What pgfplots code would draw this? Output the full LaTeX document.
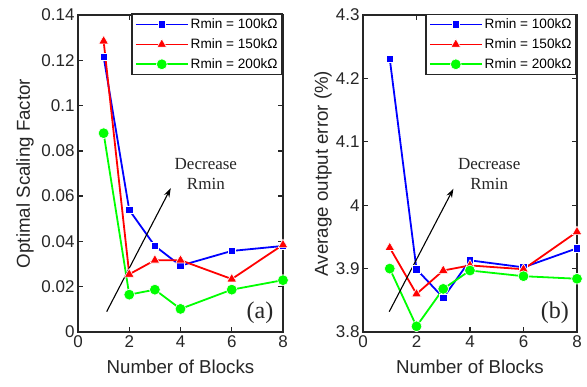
\documentclass[border=0pt]{standalone}
\usepackage{pgfplots}
\pgfplotsset{compat=1.18}
\usepackage{fontspec}
\setmainfont{Liberation Sans}
\newfontfamily\timesfont{Liberation Serif}
\usetikzlibrary{arrows.meta}
\definecolor{axgray}{RGB}{38,38,38}
\pgfplotsset{
  myaxis/.style={
    scale only axis, height=317pt,
    xmin=0, xmax=8, xtick={0,2,4,6,8},
    clip=false,
    tick align=inside,
    major tick length=5pt,
    axis line style={line width=2pt, axgray},
    tick style={line width=1.3pt, axgray},
    tick label style={font=\fontsize{17}{20}\selectfont, text=axgray},
    label style={font=\fontsize{18.7}{22}\selectfont, text=axgray},
    /pgf/number format/assume math mode=true,
    yticklabel style={/pgf/number format/fixed, /pgf/number format/precision=2},
    xlabel style={at={(axis description cs:0.5,0)}, anchor=center, yshift=-35pt},
    legend cell align=left,
    legend style={at={(1,1)}, anchor=north east, yshift=1.5pt,
      font=\fontsize{13.6}{16}\selectfont, draw=axgray, line width=1.8pt,
      inner sep=2.5pt, row sep=4.5pt},
    legend image code/.code={
      \draw[mark repeat=2, mark phase=2, line width=1.8pt] plot coordinates {(0pt,0pt) (26pt,0pt) (52pt,0pt)};
    },
  },
  sb/.style={blue, line width=1.8pt, mark=square*, mark size=3.8pt, mark options={fill=blue, draw=white, line width=0.6pt}},
  sr/.style={red, line width=1.8pt, mark=triangle*, mark size=5.6pt, mark options={fill=red, draw=white, line width=0.6pt}},
  sg/.style={green, line width=1.8pt, mark=*, mark size=5.4pt, mark options={fill=green, draw=white, line width=0.6pt}},
}
\begin{document}
\begin{tikzpicture}
\useasboundingbox (0pt,0pt) rectangle (587pt,386pt);
\begin{axis}[myaxis, at={(78pt,54pt)}, anchor=south west, width=205pt,
  ymin=0, ymax=0.14, ytick={0,0.02,0.04,0.06,0.08,0.1,0.12,0.14},
  xlabel={Number of Blocks}, ylabel={Optimal Scaling Factor},
  ylabel style={at={(axis description cs:0,0.5)}, anchor=center, yshift=53pt}]
\addplot[sb] coordinates {(1,0.1216)(2,0.0539)(3,0.0380)(4,0.0293)(6,0.0358)(8,0.0380)};
\addlegendentry{Rmin = 100kΩ}
\addplot[sr] coordinates {(1,0.1285)(2,0.0255)(3,0.0317)(4,0.0317)(6,0.0234)(8,0.0385)};
\addlegendentry{Rmin = 150kΩ}
\addplot[sg] coordinates {(1,0.0878)(2,0.0165)(3,0.0187)(4,0.0102)(6,0.0187)(8,0.0229)};
\addlegendentry{Rmin = 200kΩ}
\draw[-{Stealth[length=9pt,width=6pt]}, line width=1.1pt, black] (axis cs:1.12,0.009) -- (axis cs:3.62,0.0635);
\node[font=\timesfont\fontsize{17}{20}\selectfont, align=center, text=axgray] at (axis cs:4.99,0.070) {Decrease\\Rmin};
\node[font=\timesfont\fontsize{24}{26}\selectfont, text=axgray] at (axis cs:7.1,0.0084) {(a)};
\end{axis}
\begin{axis}[myaxis, at={(363pt,54pt)}, anchor=south west, width=214pt,
  ymin=3.8, ymax=4.3, ytick={3.8,3.9,4,4.1,4.2,4.3},
  xlabel={Number of Blocks}, ylabel={Average output error (\%)},
  ylabel style={at={(axis description cs:0,0.5)}, anchor=center, yshift=40pt}]
\addplot[sb] coordinates {(1,4.231)(2,3.899)(3,3.854)(4,3.913)(6,3.902)(8,3.932)};
\addlegendentry{Rmin = 100kΩ}
\addplot[sr] coordinates {(1,3.933)(2,3.860)(3,3.897)(4,3.905)(6,3.899)(8,3.958)};
\addlegendentry{Rmin = 150kΩ}
\addplot[sg] coordinates {(1,3.900)(2,3.809)(3,3.868)(4,3.897)(6,3.888)(8,3.884)};
\addlegendentry{Rmin = 200kΩ}
\draw[-{Stealth[length=9pt,width=6pt]}, line width=1.1pt, black] (axis cs:0.98,3.832) -- (axis cs:3.38,4.026);
\node[font=\timesfont\fontsize{17}{20}\selectfont, align=center, text=axgray] at (axis cs:4.72,4.05) {Decrease\\Rmin};
\node[font=\timesfont\fontsize{24}{26}\selectfont, text=axgray] at (axis cs:7.17,3.83) {(b)};
\end{axis}
\end{tikzpicture}
\end{document}
